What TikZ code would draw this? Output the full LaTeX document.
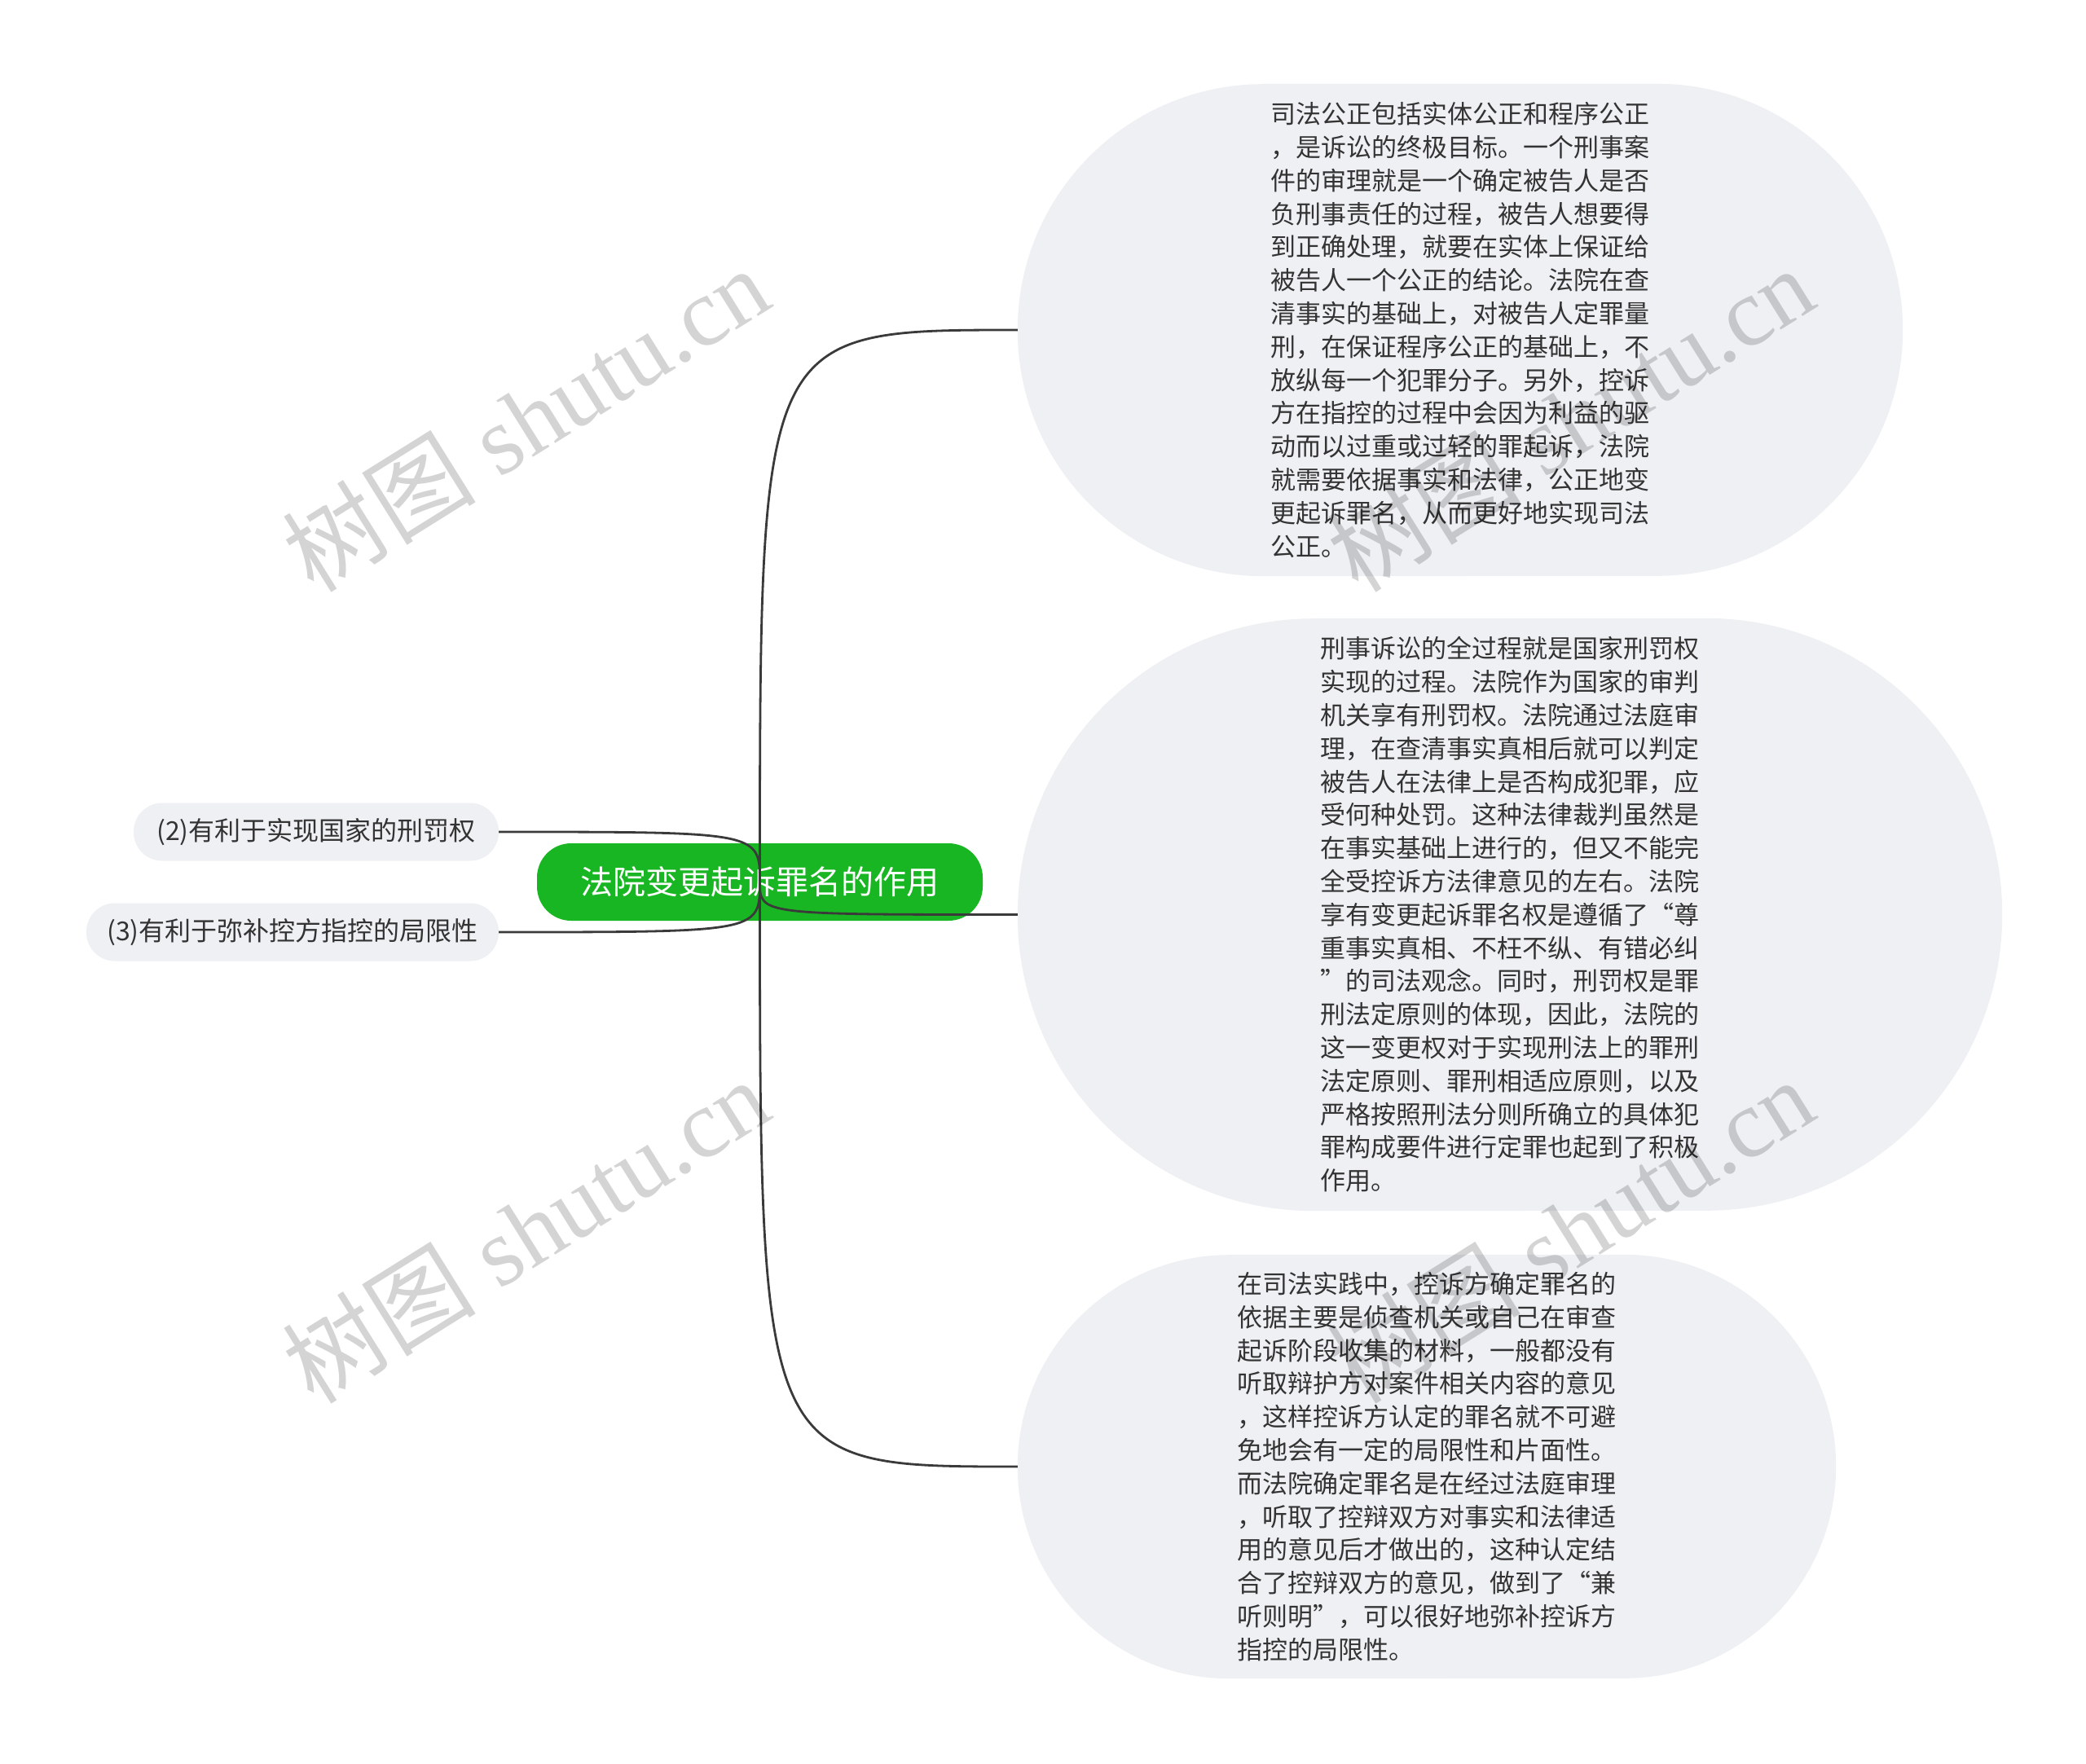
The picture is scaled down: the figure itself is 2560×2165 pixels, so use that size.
\documentclass[tikz,border=0pt]{standalone}
\usepackage{fontspec}
\setmainfont{Liberation Serif}
\newfontfamily\cjk{Noto Sans CJK SC}
\usetikzlibrary{calc,backgrounds}
\definecolor{nodebg}{HTML}{EEF0F3}
\definecolor{rootgreen}{HTML}{19B623}
\definecolor{txt}{HTML}{333333}
\definecolor{linec}{HTML}{3A3A3A}
\tikzset{
 bigtext/.style={inner sep=0pt, font=\cjk\fontsize{31pt}{40.8pt}\selectfont, text=txt, align=left, text width=466pt},
 leaf/.style={fill=nodebg, rounded corners=35pt, inner sep=0pt, minimum height=71pt, font=\cjk\fontsize{32pt}{38pt}\selectfont, text=txt},
 rootnode/.style={fill=rootgreen, rounded corners=42pt, minimum width=547pt, minimum height=95pt, inner sep=0pt, font=\cjk\fontsize{40pt}{48pt}\selectfont, text=white},
 link/.style={draw=linec, line width=2.8pt},
 wmark/.style={rotate=32, text=black, text opacity=0.17, font=\fontsize{119pt}{119pt}\selectfont}
}
\newcommand\blobfill[3]{%
 \fill[nodebg] ($(#1.north west)+(#2,0pt)$) -- ($(#1.north east)+(-#2,0pt)$)
   arc[start angle=90,end angle=0,x radius=#2,y radius=#3]
   arc[start angle=0,end angle=-90,x radius=#2,y radius=#3]
   -- ($(#1.south west)+(#2,0pt)$)
   arc[start angle=270,end angle=180,x radius=#2,y radius=#3]
   arc[start angle=180,end angle=90,x radius=#2,y radius=#3] -- cycle;}
\begin{document}
\begin{tikzpicture}[x=1pt,y=-1pt]
\useasboundingbox (0,0) rectangle (2560,2165);

\node[rootnode] (root) at (932.5,1082.5) {法院变更起诉罪名的作用};
\node[leaf, minimum width=448pt] (l2) at (388,1021) {(2)有利于实现国家的刑罚权};
\node[leaf, minimum width=506pt] (l3) at (359,1144) {(3)有利于弥补控方指控的局限性};

\node[bigtext, minimum width=1086pt, minimum height=604pt] (n1) at (1792,405) {司法公正包括实体公正和程序公正\\
，是诉讼的终极目标。一个刑事案\\
件的审理就是一个确定被告人是否\\
负刑事责任的过程，被告人想要得\\
到正确处理，就要在实体上保证给\\
被告人一个公正的结论。法院在查\\
清事实的基础上，对被告人定罪量\\
刑，在保证程序公正的基础上，不\\
放纵每一个犯罪分子。另外，控诉\\
方在指控的过程中会因为利益的驱\\
动而以过重或过轻的罪起诉，法院\\
就需要依据事实和法律，公正地变\\
更起诉罪名，从而更好地实现司法\\
公正。};

\node[bigtext, minimum width=1208pt, minimum height=727pt] (n2) at (1853,1122.5) {刑事诉讼的全过程就是国家刑罚权\\
实现的过程。法院作为国家的审判\\
机关享有刑罚权。法院通过法庭审\\
理，在查清事实真相后就可以判定\\
被告人在法律上是否构成犯罪，应\\
受何种处罚。这种法律裁判虽然是\\
在事实基础上进行的，但又不能完\\
全受控诉方法律意见的左右。法院\\
享有变更起诉罪名权是遵循了“尊\\
重事实真相、不枉不纵、有错必纠\\
”的司法观念。同时，刑罚权是罪\\
刑法定原则的体现，因此，法院的\\
这一变更权对于实现刑法上的罪刑\\
法定原则、罪刑相适应原则，以及\\
严格按照刑法分则所确立的具体犯\\
罪构成要件进行定罪也起到了积极\\
作用。};

\node[bigtext, minimum width=1004pt, minimum height=520pt] (n3) at (1751,1800) {在司法实践中，控诉方确定罪名的\\
依据主要是侦查机关或自己在审查\\
起诉阶段收集的材料，一般都没有\\
听取辩护方对案件相关内容的意见\\
，这样控诉方认定的罪名就不可避\\
免地会有一定的局限性和片面性。\\
而法院确定罪名是在经过法庭审理\\
，听取了控辩双方对事实和法律适\\
用的意见后才做出的，这种认定结\\
合了控辩双方的意见，做到了“兼\\
听则明”，可以很好地弥补控诉方\\
指控的局限性。};

\begin{scope}[on background layer]
 \fill[white] (0,0) rectangle (2560,2165);
 \blobfill{n1}{302pt}{302pt}
 \blobfill{n2}{363.5pt}{363.5pt}
 \blobfill{n3}{260pt}{260pt}
\end{scope}

\draw[link] (root.center) .. controls (root.center |- n1.west) .. (n1.west);
\draw[link] (root.center) .. controls (root.center |- n2.west) .. (n2.west);
\draw[link] (root.center) .. controls (root.center |- n3.west) .. (n3.west);
\draw[link] (root.center) .. controls (root.center |- l2.east) .. (l2.east);
\draw[link] (root.center) .. controls (root.center |- l3.east) .. (l3.east);

\node[wmark] (w1) at (645,514) {{\cjk 树图} shutu.cn};
\node[wmark] (w2) at (1927,514) {{\cjk 树图} shutu.cn};
\node[wmark] (w3) at (645,1510) {{\cjk 树图} shutu.cn};
\node[wmark] (w4) at (1927,1510) {{\cjk 树图} shutu.cn};
\end{tikzpicture}
\end{document}
